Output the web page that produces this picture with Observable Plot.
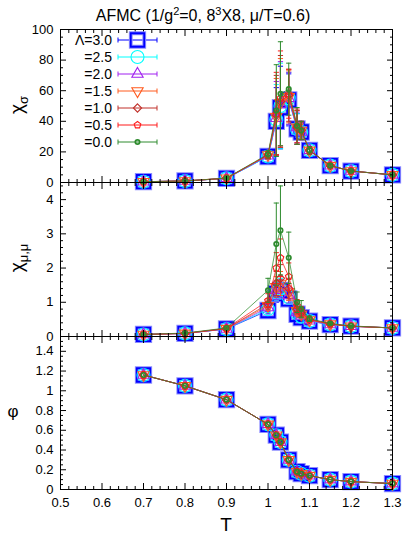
<!DOCTYPE html>
<html><head><meta charset="utf-8">
<script src="https://cdn.jsdelivr.net/npm/d3@7"></script>
<script src="https://cdn.jsdelivr.net/npm/@observablehq/plot@0.6"></script>
<style>
body{margin:0;background:#fff;}
#wrap{position:relative;width:409px;height:539px;font-family:"Liberation Sans",Arial,sans-serif;}
#wrap svg{position:absolute;left:0;top:0;}
</style></head><body><div id="wrap"></div>
<script>
// ---- data ----
const T = [0.7, 0.8, 0.9, 1.0, 1.02, 1.03, 1.05, 1.07, 1.08, 1.1, 1.15, 1.2, 1.3];
const lambdaLabels = ["Λ=3.0", "=2.5", "=2.0", "=1.5", "=1.0", "=0.5", "=0.0"];
const colors = ["#0000ff", "#00ffff", "#a020f0", "#ff5a1e", "#c0302a", "#ff1a1a", "#2e8b2e"];

// chi_sigma per Lambda (3.0 ... 0.0)
const chiSigma = [
  [0.5, 1.0, 2.7, 17.0, 40, 49, 54, 35, 33, 21, 11, 7.5, 5],
  [0.5, 1.0, 2.7, 17.0, 41, 50, 55, 35, 33, 21, 11, 7.5, 5],
  [0.5, 1.0, 2.7, 17.5, 42, 51, 55, 36, 33, 21, 11, 7.5, 5],
  [0.5, 1.0, 2.8, 18.0, 43, 52, 56, 36, 34, 21, 11, 7.5, 5],
  [0.5, 1.0, 2.8, 18.0, 44, 53, 57, 36, 34, 21, 11, 7.5, 5],
  [0.5, 1.0, 2.8, 18.0, 45, 55, 58, 37, 34, 21, 11, 7.5, 5],
  [0.5, 1.0, 2.9, 18.5, 47, 58, 61, 37, 34, 21, 11, 7.5, 5]
];
const chiSigmaErr = [
  [0.1, 0.1, 0.3, 2.0, 22, 27, 17, 10, 5, 2.0, 1, 0.5, 0.3],
  [0.1, 0.1, 0.3, 2.0, 23, 28, 17, 10, 5, 2.0, 1, 0.5, 0.3],
  [0.1, 0.1, 0.3, 2.0, 24, 28, 17, 10, 5, 2.0, 1, 0.5, 0.3],
  [0.1, 0.1, 0.3, 2.2, 25, 29, 17, 11, 5, 2.2, 1, 0.5, 0.3],
  [0.1, 0.1, 0.3, 2.2, 26, 30, 17, 11, 6, 2.2, 1, 0.5, 0.3],
  [0.1, 0.1, 0.3, 2.4, 27, 31, 16, 11, 6, 2.4, 1, 0.5, 0.3],
  [0.1, 0.1, 0.3, 2.5, 30, 34, 17, 12, 6, 2.5, 1, 0.5, 0.3]
];
// chi_mu,mu per Lambda
const chiMu = [
  [0.06, 0.09, 0.22, 0.76, 1.25, 1.35, 1.10, 0.65, 0.55, 0.45, 0.35, 0.30, 0.25],
  [0.06, 0.09, 0.22, 0.80, 1.30, 1.40, 1.15, 0.68, 0.58, 0.45, 0.35, 0.30, 0.25],
  [0.06, 0.09, 0.22, 0.85, 1.35, 1.45, 1.20, 0.70, 0.60, 0.46, 0.35, 0.30, 0.25],
  [0.06, 0.09, 0.23, 0.90, 1.45, 1.55, 1.30, 0.75, 0.65, 0.48, 0.36, 0.30, 0.25],
  [0.06, 0.09, 0.23, 0.95, 1.55, 1.70, 1.40, 0.80, 0.70, 0.50, 0.36, 0.30, 0.25],
  [0.06, 0.09, 0.24, 1.05, 2.00, 2.30, 1.75, 0.90, 0.75, 0.50, 0.37, 0.30, 0.25],
  [0.06, 0.10, 0.25, 1.35, 2.70, 3.10, 2.30, 1.00, 0.80, 0.52, 0.38, 0.31, 0.25]
];
const chiMuErr = [
  [0.01, 0.01, 0.02, 0.10, 0.25, 0.30, 0.20, 0.10, 0.08, 0.04, 0.02, 0.02, 0.01],
  [0.01, 0.01, 0.02, 0.10, 0.25, 0.30, 0.20, 0.10, 0.08, 0.04, 0.02, 0.02, 0.01],
  [0.01, 0.01, 0.02, 0.12, 0.28, 0.32, 0.22, 0.11, 0.09, 0.04, 0.02, 0.02, 0.01],
  [0.01, 0.01, 0.02, 0.13, 0.30, 0.35, 0.25, 0.12, 0.10, 0.05, 0.02, 0.02, 0.01],
  [0.01, 0.01, 0.02, 0.15, 0.35, 0.40, 0.30, 0.14, 0.11, 0.05, 0.02, 0.02, 0.01],
  [0.01, 0.01, 0.03, 0.20, 0.45, 0.55, 0.40, 0.18, 0.13, 0.06, 0.03, 0.02, 0.01],
  [0.01, 0.01, 0.03, 0.35, 1.20, 1.30, 0.75, 0.30, 0.25, 0.08, 0.03, 0.02, 0.01]
];
// phi per Lambda (indistinguishable in the picture)
const phi = [
  [1.16, 1.05, 0.91, 0.66, 0.55, 0.48, 0.30, 0.18, 0.16, 0.14, 0.10, 0.08, 0.06],
  [1.16, 1.05, 0.91, 0.66, 0.55, 0.48, 0.30, 0.18, 0.16, 0.14, 0.10, 0.08, 0.06],
  [1.16, 1.05, 0.91, 0.66, 0.55, 0.48, 0.30, 0.18, 0.16, 0.14, 0.10, 0.08, 0.06],
  [1.16, 1.05, 0.91, 0.66, 0.55, 0.48, 0.30, 0.18, 0.16, 0.14, 0.10, 0.08, 0.06],
  [1.16, 1.05, 0.91, 0.66, 0.55, 0.48, 0.30, 0.18, 0.16, 0.14, 0.10, 0.08, 0.06],
  [1.16, 1.05, 0.91, 0.66, 0.55, 0.48, 0.30, 0.18, 0.16, 0.14, 0.10, 0.08, 0.06],
  [1.16, 1.05, 0.91, 0.66, 0.55, 0.48, 0.30, 0.18, 0.16, 0.14, 0.10, 0.08, 0.06]
];
const xTicks = [0.5, 0.6, 0.7, 0.8, 0.9, 1.0, 1.1, 1.2, 1.3];
const yTicksTop = [0, 20, 40, 60, 80, 100];
const yTicksMid = [0, 1, 2, 3, 4];
const yTicksBot = [0, 0.2, 0.4, 0.6, 0.8, 1, 1.2, 1.4];

// ---- styles ----
const pentagon = {draw(ctx, size) {
  const R = Math.sqrt(size / Math.PI);
  for (let k = 0; k < 5; k++) {
    const a = -Math.PI / 2 + k * 2 * Math.PI / 5;
    const x = R * Math.cos(a), y = R * Math.sin(a);
    k ? ctx.lineTo(x, y) : ctx.moveTo(x, y);
  }
  ctx.closePath();
}};
const capSym = {draw(ctx, size) {
  const w = Math.sqrt(size / Math.PI);
  ctx.moveTo(-w, 0); ctx.lineTo(w, 0);
}};
const markerStyle = [
  {symbol: d3.symbolSquare, r: 7.6, sw: 1.8, halo: "#8c8cff"},
  {symbol: d3.symbolCircle, r: 6.5, sw: 1.1},
  {symbol: d3.symbolTriangle, r: 4.2, sw: 1.1},
  {symbol: d3.symbolTriangle, r: 4.2, sw: 1.1, rotate: 180},
  {symbol: d3.symbolDiamond2, r: 3.7, sw: 1.1},
  {symbol: pentagon, r: 3.5, sw: 1.1},
  {symbol: d3.symbolCircle, r: 2.2, sw: 1.7}
];

const rowsBySeries = colors.map((c, i) => T.map((t, j) => ({
  T: t, cs: chiSigma[i][j], csE: chiSigmaErr[i][j],
  cm: chiMu[i][j], cmE: chiMuErr[i][j], ph: phi[i][j]
})));

const W = 409, H = 539, mL = 60, mR = 17;
const frames = [[29, 182], [182, 336], [336, 489]];
const font = "'Liberation Sans', Arial, sans-serif";

function minorTicks(lo, hi, step, majors) {
  const out = [];
  const n = Math.round((hi - lo) / step);
  for (let k = 0; k <= n; k++) {
    const v = +(lo + k * step).toFixed(4);
    if (!majors.some(m => Math.abs(m - v) < 1e-9)) out.push(v);
  }
  return out;
}
const xMinor = minorTicks(0.5, 1.3, 0.02, xTicks);

function makePanel(p, key, errKey, yDomain, yMajor, yMinor, showX) {
  const [top, bot] = frames[p];
  const marks = [];
  rowsBySeries.forEach((rows, i) => {
    const c = colors[i];
    if (errKey) {
      marks.push(Plot.ruleX(rows, {x: "T", y1: d => d[key] - d[errKey], y2: d => d[key] + d[errKey], stroke: c, strokeWidth: 1}));
      marks.push(Plot.dot(rows, {x: "T", y: d => d[key] + d[errKey], symbol: capSym, r: 2.6, stroke: c, fill: "none", strokeWidth: 1}));
      marks.push(Plot.dot(rows, {x: "T", y: d => d[key] - d[errKey], symbol: capSym, r: 2.6, stroke: c, fill: "none", strokeWidth: 1}));
    }
    marks.push(Plot.line(rows, {x: "T", y: key, stroke: c, strokeWidth: 1, strokeOpacity: 0.75}));
    const s = markerStyle[i];
    if (s.halo) marks.push(Plot.dot(rows, {x: "T", y: key, symbol: s.symbol, r: s.r, stroke: s.halo, strokeWidth: s.sw + 2, fill: "none"}));
    marks.push(Plot.dot(rows, {x: "T", y: key, symbol: s.symbol, r: s.r, rotate: s.rotate || 0, stroke: c, strokeWidth: s.sw, fill: "none"}));
  });
  for (const anchor of ["left", "right"]) {
    marks.push(Plot.axisY({anchor, ticks: yMajor, tickSize: -6, tickFormat: () => "", label: null}));
    marks.push(Plot.axisY({anchor, ticks: yMinor, tickSize: -3, tickFormat: () => "", label: null}));
  }
  for (const anchor of ["top", "bottom"]) {
    marks.push(Plot.axisX({anchor, ticks: xTicks, tickSize: -6, tickFormat: () => "", label: null}));
    marks.push(Plot.axisX({anchor, ticks: xMinor, tickSize: -3, tickFormat: () => "", label: null}));
  }
  marks.push(Plot.axisY({anchor: "left", ticks: yMajor, tickSize: 0, tickPadding: 7, tickFormat: d => String(d), label: null}));
  if (showX) marks.push(Plot.axisX({anchor: "bottom", ticks: xTicks, tickSize: 0, tickPadding: 8, tickFormat: d => String(d), label: null}));
  marks.push(Plot.frame({stroke: "black", strokeWidth: 1}));
  return Plot.plot({
    width: W, height: H,
    marginLeft: mL, marginRight: mR, marginTop: top, marginBottom: H - bot,
    x: {domain: [0.5, 1.3], label: null},
    y: {domain: yDomain, label: null},
    style: {background: "transparent", fontFamily: font, fontSize: "13px", color: "black"},
    marks
  });
}

const wrap = document.getElementById("wrap");
wrap.appendChild(makePanel(0, "cs", "csE", [0, 100], yTicksTop, minorTicks(0, 100, 5, yTicksTop), false));
wrap.appendChild(makePanel(1, "cm", "cmE", [0, 4.5], yTicksMid, minorTicks(0, 4.4, 0.2, yTicksMid), false));
wrap.appendChild(makePanel(2, "ph", null, [0, 1.55], yTicksBot, minorTicks(0, 1.55, 0.05, yTicksBot), true));

// ---- overlay: title, axis labels, legend ----
const svg = d3.select(wrap).append("svg").attr("width", W).attr("height", H)
  .style("font-family", font);
const title = svg.append("text").attr("x", 203).attr("y", 21).attr("text-anchor", "middle").attr("font-size", 16);
title.append("tspan").text("AFMC (1/g");
title.append("tspan").attr("dy", -6).attr("font-size", 11).text("2");
title.append("tspan").attr("dy", 6).text("=0, 8");
title.append("tspan").attr("dy", -6).attr("font-size", 11).text("3");
title.append("tspan").attr("dy", 6).text("X8, μ/T=0.6)");

function ylabel(x, y, main, sub) {
  const t = svg.append("text").attr("transform", `translate(${x},${y}) rotate(-90)`)
    .attr("text-anchor", "middle").attr("font-size", 19);
  t.append("tspan").text(main);
  if (sub) t.append("tspan").attr("dy", 5).attr("font-size", 13).text(sub);
}
ylabel(23, 105, "χ", "σ");
ylabel(23, 258, "χ", "μ,μ");
svg.append("text").attr("x", 13).attr("y", 417).attr("text-anchor", "middle").attr("font-size", 17).text("φ");
svg.append("text").attr("x", 226).attr("y", 531).attr("text-anchor", "middle").attr("font-size", 19).text("T");

const lg = svg.append("g");
lambdaLabels.forEach((lab, i) => {
  const y = 40 + i * 17, c = colors[i], s = markerStyle[i];
  lg.append("text").attr("x", 112).attr("y", y).attr("dy", "0.36em").attr("text-anchor", "end")
    .attr("font-size", 14).text(lab);
  lg.append("line").attr("x1", 118).attr("x2", 157).attr("y1", y).attr("y2", y).attr("stroke", c);
  for (const xx of [118, 157]) lg.append("line").attr("x1", xx).attr("x2", xx).attr("y1", y - 2.5).attr("y2", y + 2.5).attr("stroke", c);
  const path = d3.symbol(s.symbol, s.r * s.r * Math.PI)();
  if (s.halo) lg.append("path").attr("d", path).attr("transform", `translate(137.5,${y})`).attr("fill", "none").attr("stroke", s.halo).attr("stroke-width", s.sw + 2);
  lg.append("path").attr("d", path).attr("transform", `translate(137.5,${y}) rotate(${s.rotate || 0})`)
    .attr("fill", "none").attr("stroke", c).attr("stroke-width", s.sw);
});
</script></body></html>
